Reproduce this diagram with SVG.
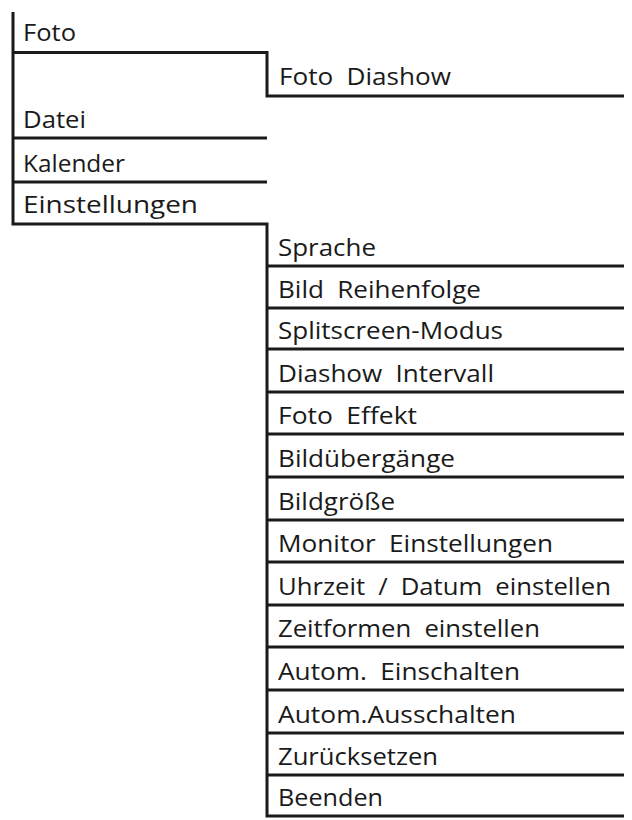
<svg xmlns="http://www.w3.org/2000/svg" width="632" height="820" viewBox="0 0 632 820">
<style>
.t{font-family:"Open Sans","Noto Sans","Liberation Sans",sans-serif;font-size:24px;fill:#1a1a1a}
.w{word-spacing:6px}
.c{fill:none;stroke:#1a1a1a;stroke-width:3;stroke-linejoin:miter;stroke-linecap:butt}
</style>
<rect width="632" height="820" fill="#ffffff"/>
<g id="connectors">
<path class="c" d="M13,12 V224 H267 V816 H624"/>
<path class="c" d="M13,52.5 H267 V96 H624"/>
<path class="c" d="M13,138 H267"/>
<path class="c" d="M13,182 H267"/>
<path class="c" d="M267,266 H624 M267,308 H624 M267,349 H624 M267,392 H624 M267,434 H624 M267,477 H624 M267,520 H624 M267,562 H624 M267,605 H624 M267,647 H624 M267,690 H624 M267,733 H624 M267,775 H624"/>
</g>
<g id="n-foto"><text class="t" x="23" y="41" textLength="53" lengthAdjust="spacingAndGlyphs">Foto</text></g>
<g id="n-foto-diashow"><text class="t w" x="279" y="85" textLength="172" lengthAdjust="spacingAndGlyphs">Foto Diashow</text></g>
<g id="n-datei"><text class="t" x="23" y="128" textLength="63" lengthAdjust="spacingAndGlyphs">Datei</text></g>
<g id="n-kalender"><text class="t" x="23" y="172" textLength="102" lengthAdjust="spacingAndGlyphs">Kalender</text></g>
<g id="n-einstellungen"><text class="t" x="23" y="213" textLength="175" lengthAdjust="spacingAndGlyphs">Einstellungen</text></g>
<g id="n-sprache"><text class="t" x="278" y="256" textLength="98" lengthAdjust="spacingAndGlyphs">Sprache</text></g>
<g id="n-bild-reihenfolge"><text class="t w" x="278" y="298" textLength="203" lengthAdjust="spacingAndGlyphs">Bild Reihenfolge</text></g>
<g id="n-splitscreen"><text class="t" x="278" y="339" textLength="225" lengthAdjust="spacingAndGlyphs">Splitscreen-Modus</text></g>
<g id="n-diashow-intervall"><text class="t w" x="278" y="382" textLength="216" lengthAdjust="spacingAndGlyphs">Diashow Intervall</text></g>
<g id="n-foto-effekt"><text class="t w" x="278" y="424" textLength="139" lengthAdjust="spacingAndGlyphs">Foto Effekt</text></g>
<g id="n-bilduebergaenge"><text class="t" x="278" y="467" textLength="177" lengthAdjust="spacingAndGlyphs">Bildübergänge</text></g>
<g id="n-bildgroesse"><text class="t" x="278" y="510" textLength="117" lengthAdjust="spacingAndGlyphs">Bildgröße</text></g>
<g id="n-monitor"><text class="t w" x="278" y="552" textLength="275" lengthAdjust="spacingAndGlyphs">Monitor Einstellungen</text></g>
<g id="n-uhrzeit"><text class="t w" x="278" y="595" textLength="333" lengthAdjust="spacingAndGlyphs">Uhrzeit / Datum einstellen</text></g>
<g id="n-zeitformen"><text class="t w" x="278" y="637" textLength="262" lengthAdjust="spacingAndGlyphs">Zeitformen einstellen</text></g>
<g id="n-autom-ein"><text class="t w" x="278" y="680" textLength="242" lengthAdjust="spacingAndGlyphs">Autom. Einschalten</text></g>
<g id="n-autom-aus"><text class="t" x="278" y="723" textLength="238" lengthAdjust="spacingAndGlyphs">Autom.Ausschalten</text></g>
<g id="n-zuruecksetzen"><text class="t" x="278" y="765" textLength="160" lengthAdjust="spacingAndGlyphs">Zurücksetzen</text></g>
<g id="n-beenden"><text class="t" x="278" y="806" textLength="105" lengthAdjust="spacingAndGlyphs">Beenden</text></g>
</svg>
